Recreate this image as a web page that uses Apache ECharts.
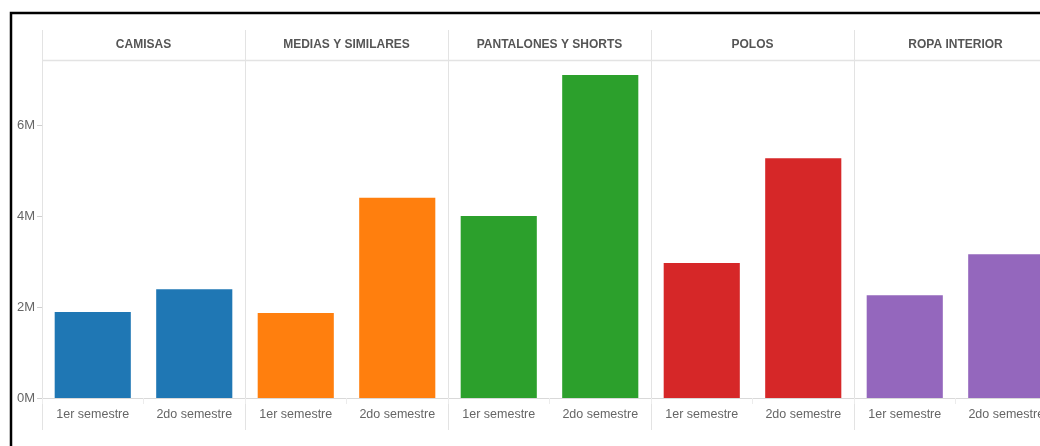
<!DOCTYPE html>
<html><head><meta charset="utf-8">
<script src="https://cdn.jsdelivr.net/npm/echarts@6/dist/echarts.min.js"></script>
<style>html,body{margin:0;padding:0;background:#fff}#c{width:1040px;height:446px}</style>
</head><body><div id="c"></div>
<script>
const categories = ['CAMISAS','MEDIAS Y SIMILARES','PANTALONES Y SHORTS','POLOS','ROPA INTERIOR'];
const semesters = ['1er semestre','2do semestre'];
const sem1 = [1.89e6, 1.87e6, 4.00e6, 2.97e6, 2.26e6];
const sem2 = [2.39e6, 4.40e6, 7.10e6, 5.27e6, 3.16e6];
const colors = ['#1f77b4','#ff7f0e','#2ca02c','#d62728','#9467bd'];
const yTicks = [0, 2e6, 4e6, 6e6];

(function(){
const FONT = "'Liberation Sans',Arial,sans-serif";
const x0 = 42, pw = 203, gTop = 60, bottomY = 398;
const grids = [], xAxes = [], yAxes = [], series = [], titles = [], graphics = [];
categories.forEach((cat, i) => {
  grids.push({left: x0 + i*pw, width: pw, top: gTop, bottom: 446 - bottomY, containLabel: false, outerBoundsMode: 'none'});
  xAxes.push({type:'category', gridIndex:i, data: semesters,
    axisLine:{show:true, lineStyle:{color:'#d9d9d9'}},
    axisTick:{show:true, length:6, lineStyle:{color:'#ececec'}},
    axisLabel:{color:'#666', fontFamily:FONT, fontSize:12.5, margin:10, interval:0}
  });
  yAxes.push({type:'value', gridIndex:i, min:0, max:7.43e6, interval:2e6,
    splitLine:{show:false},
    axisLine:{show:false},
    axisTick:{show:i===0, length:5, customValues: yTicks, lineStyle:{color:'#cfcfcf'}},
    axisLabel:{show:i===0, color:'#666', fontFamily:FONT, fontSize:13, margin:7, customValues: yTicks,
      formatter: v => (v/1e6) + 'M'}
  });
  series.push({type:'bar', xAxisIndex:i, yAxisIndex:i, data:[sem1[i], sem2[i]],
    barCategoryGap:'25%', itemStyle:{color:colors[i]}, silent:true});
  titles.push({text:cat, left: x0 + i*pw + pw/2, top: 39, textAlign:'center', padding:0,
    textStyle:{color:'#555', fontFamily:FONT, fontSize:12, fontWeight:'bold'}});
  graphics.push({type:'line', shape:{x1:x0+i*pw+0.5, y1:30, x2:x0+i*pw+0.5, y2:430},
    style:{stroke:'#e3e3e3', lineWidth:1}, z:-1});
});
graphics.push({type:'line', shape:{x1:x0, y1:60.5, x2:1040, y2:60.5}, style:{stroke:'#e3e3e3', lineWidth:1.5}, z:-1});
graphics.push({type:'rect', shape:{x:11, y:13, width:1100, height:500}, style:{fill:null, stroke:'#000', lineWidth:2.5}});

const chart = echarts.init(document.getElementById('c'), null, {renderer:'canvas'});
chart.setOption({animation:false, title:titles, grid:grids, xAxis:xAxes, yAxis:yAxes, series:series, graphic:graphics});
})();
</script></body></html>
